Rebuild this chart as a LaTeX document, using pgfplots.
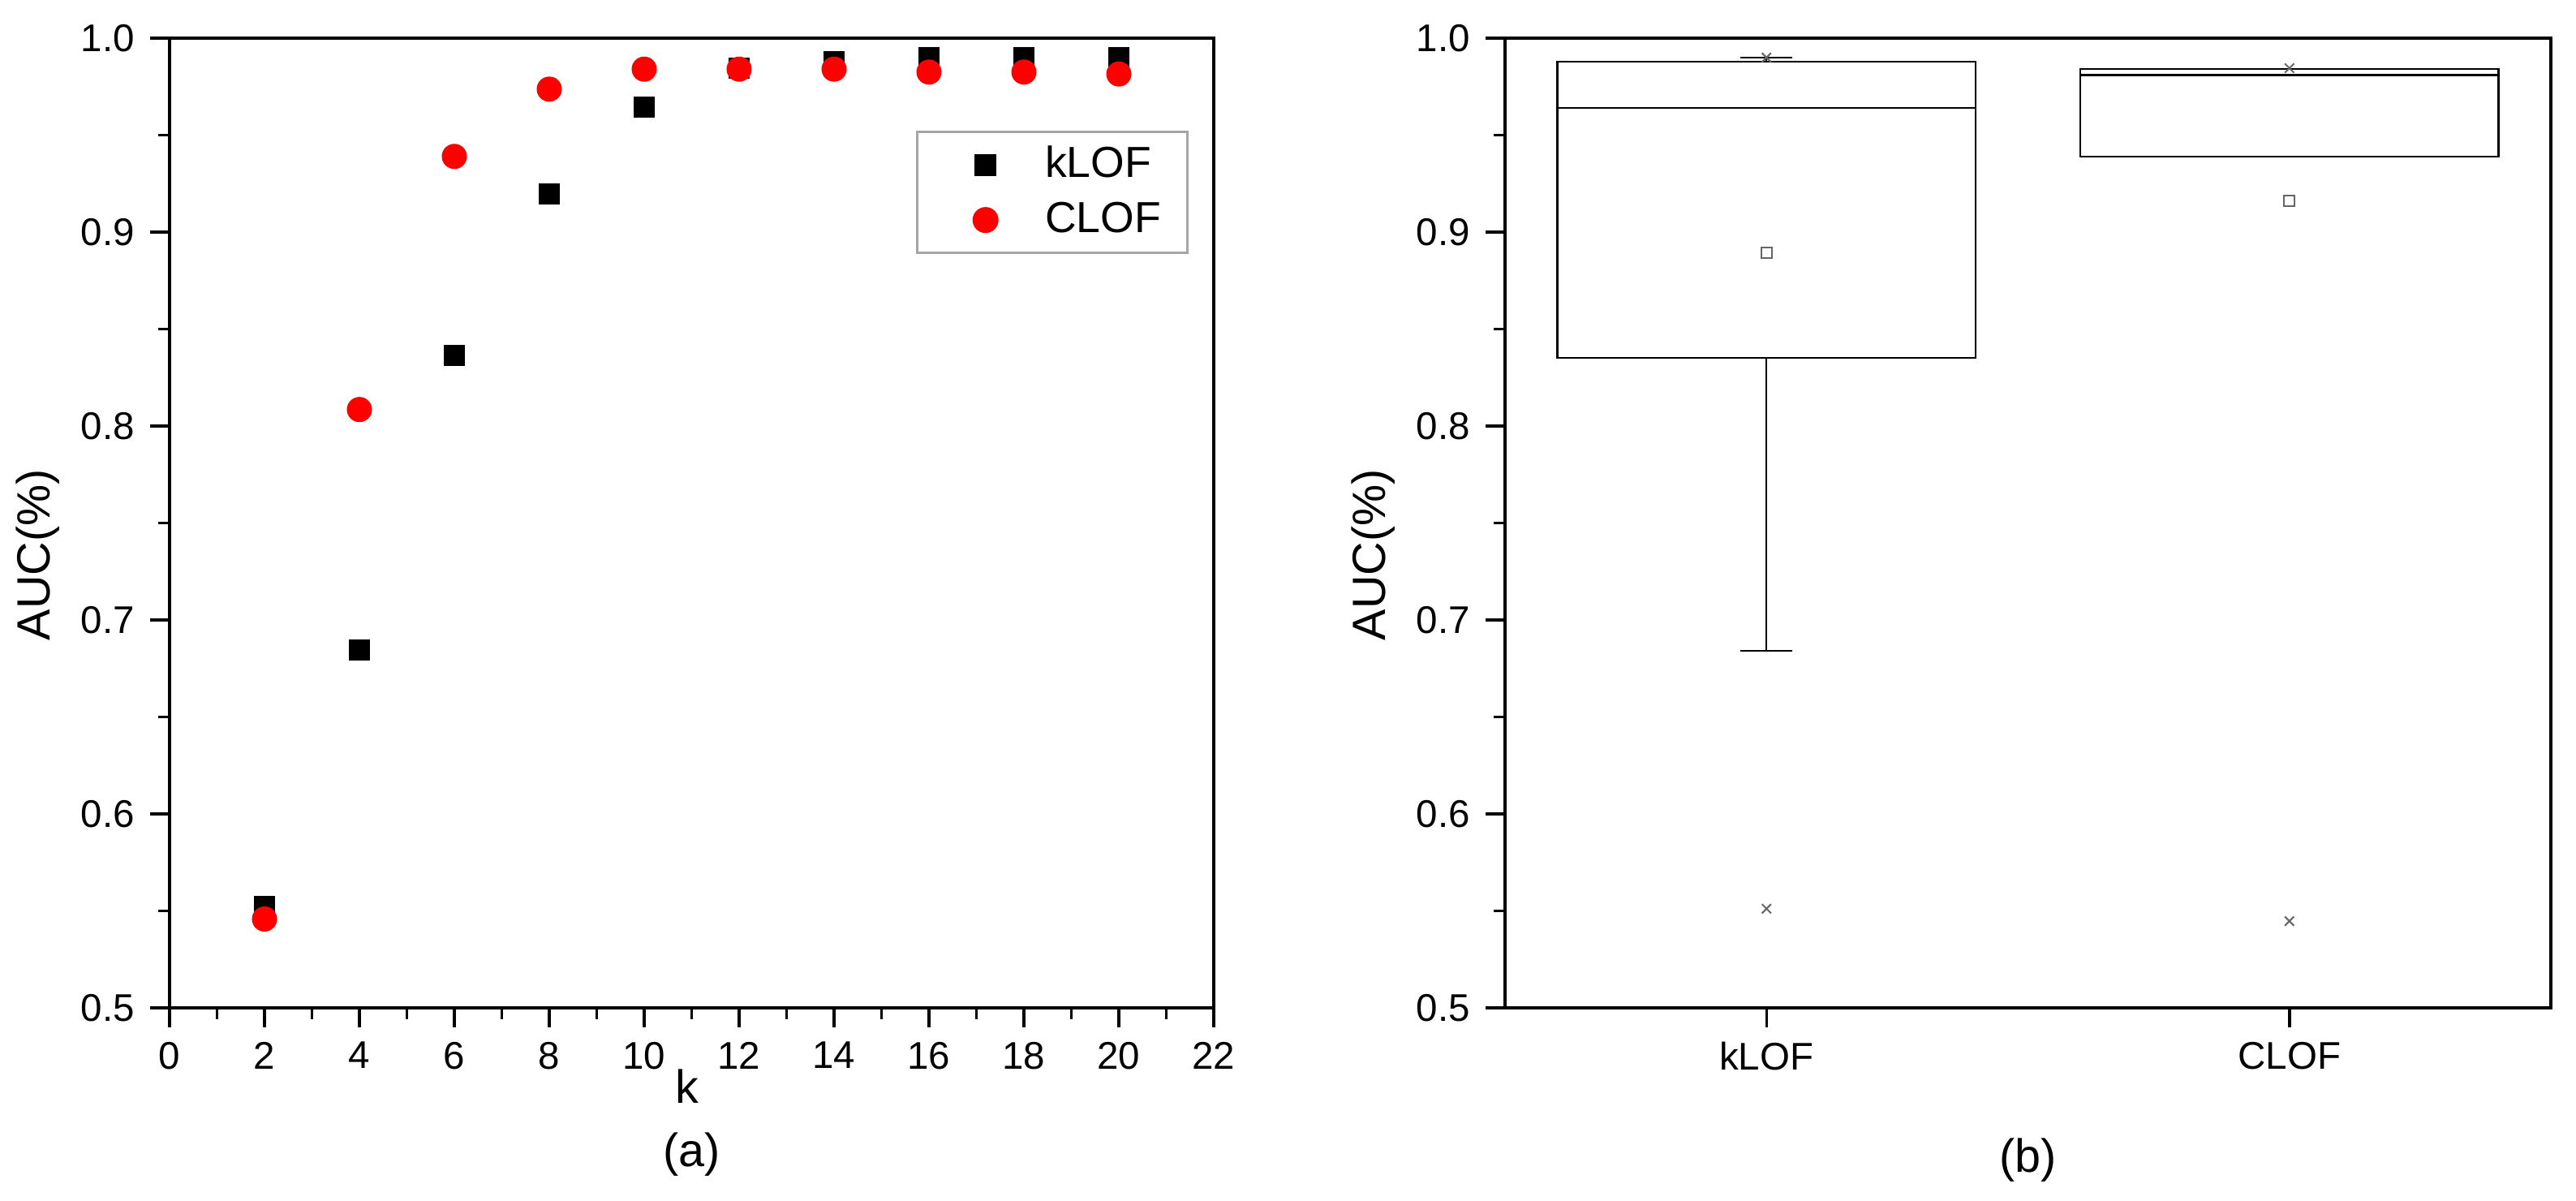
\documentclass[border=0pt]{standalone}
\usepackage{fontspec}
\setmainfont{Liberation Sans}
\usepackage{pgfplots}
\pgfplotsset{compat=1.18}
\usepgfplotslibrary{statistics}

\pgfplotsset{
  auc/.style={
    scale only axis,
    anchor=south west,
    ymin=0.5, ymax=1.0,
    ytick={0.5,0.6,0.7,0.8,0.9,1.0},
    minor y tick num=1,
    tick align=outside,
    tick pos=left,
    major tick length=4.8pt,
    minor tick length=2.8pt,
    axis line style={line width=0.7pt},
    tick style={black, line width=0.7pt},
    /pgf/number format/assume math mode=true,
    tick label style={font=\fontsize{9.5}{11}\selectfont, inner sep=0pt},
    yticklabel style={/pgf/number format/fixed, /pgf/number format/fixed zerofill,
      /pgf/number format/precision=1, anchor=east, xshift=-3.6pt},
    xticklabel style={anchor=north, yshift=-3.4pt},
    ylabel={AUC(\%)},
    every axis y label/.style={at={(axis description cs:-0.126,0.467)},
      rotate=90, anchor=center, font=\fontsize{11.5}{13}\selectfont},
    every axis x label/.style={at={(axis description cs:0.496,-0.081)},
      anchor=center, font=\fontsize{11.5}{13}\selectfont},
    every axis title/.style={anchor=center, font=\fontsize{11.5}{13}\selectfont},
  },
}

\begin{document}
\begin{tikzpicture}
\useasboundingbox (0,0) rectangle (635pt,296pt);

% (a) AUC against k
\begin{axis}[auc,
  at={(41.8pt,47.6pt)}, width=257.4pt, height=239pt,
  xmin=0, xmax=22, xtick={0,2,...,22}, minor x tick num=1,
  xlabel={k},
  title={(a)}, title style={at={(axis description cs:0.5,-0.151)}},
  legend style={at={(axis description cs:0.715,0.9046)}, anchor=north west,
    draw=gray!70, line width=0.6pt, inner xsep=4.5pt, inner ysep=1.5pt,
    font=\fontsize{10.7}{12.5}\selectfont, row sep=0.5pt},
  legend cell align=left,
  legend image code/.code={
    \path[draw=none, fill=none] (0pt,-1pt) rectangle (25pt,1pt);
    \draw[#1] plot coordinates {(12.3pt,0pt)};
  },
]
\addplot[only marks, mark=square*, mark size=2.4pt, black] coordinates {
  (2,0.5525) (4,0.6847) (6,0.8364) (8,0.9195) (10,0.9644)
  (12,0.9845) (14,0.9880) (16,0.9900) (18,0.9900) (20,0.9900)
};
\addplot[only marks, mark=*, mark size=2.9pt, red] coordinates {
  (2,0.5458) (4,0.8085) (6,0.9390) (8,0.9737) (10,0.9840)
  (12,0.9840) (14,0.9840) (16,0.9825) (18,0.9825) (20,0.9815)
};
\legend{kLOF, CLOF}
\end{axis}

% (b) box plots
\begin{axis}[auc,
  at={(371pt,47.6pt)}, width=257.8pt, height=239pt,
  xmin=0.5, xmax=2.5, xtick={1,2}, xticklabels={kLOF,CLOF},
  title={(b)}, title style={at={(axis description cs:0.5,-0.157)}},
  boxplot/draw direction=y,
]
\addplot[black, line width=0.45pt, fill=white,
  boxplot prepared={draw position=1, lower whisker=0.684, lower quartile=0.835,
    median=0.964, upper quartile=0.988, upper whisker=0.990,
    box extend=0.8, whisker extend=0.1}] coordinates {};
\addplot[black, line width=0.45pt, fill=white,
  boxplot prepared={draw position=2, lower whisker=0.939, lower quartile=0.939,
    median=0.981, upper quartile=0.984, upper whisker=0.984,
    box extend=0.8, whisker extend=0.1}] coordinates {};
\addplot[only marks, mark=square, mark size=1.3pt, gray!80!black, line width=0.4pt]
  coordinates {(1,0.8895) (2,0.9163)};
\addplot[only marks, mark=x, mark size=1.6pt, gray!80!black, line width=0.4pt]
  coordinates {(1,0.9900) (1,0.5511) (2,0.9845) (2,0.5447)};
\end{axis}
\end{tikzpicture}
\end{document}
